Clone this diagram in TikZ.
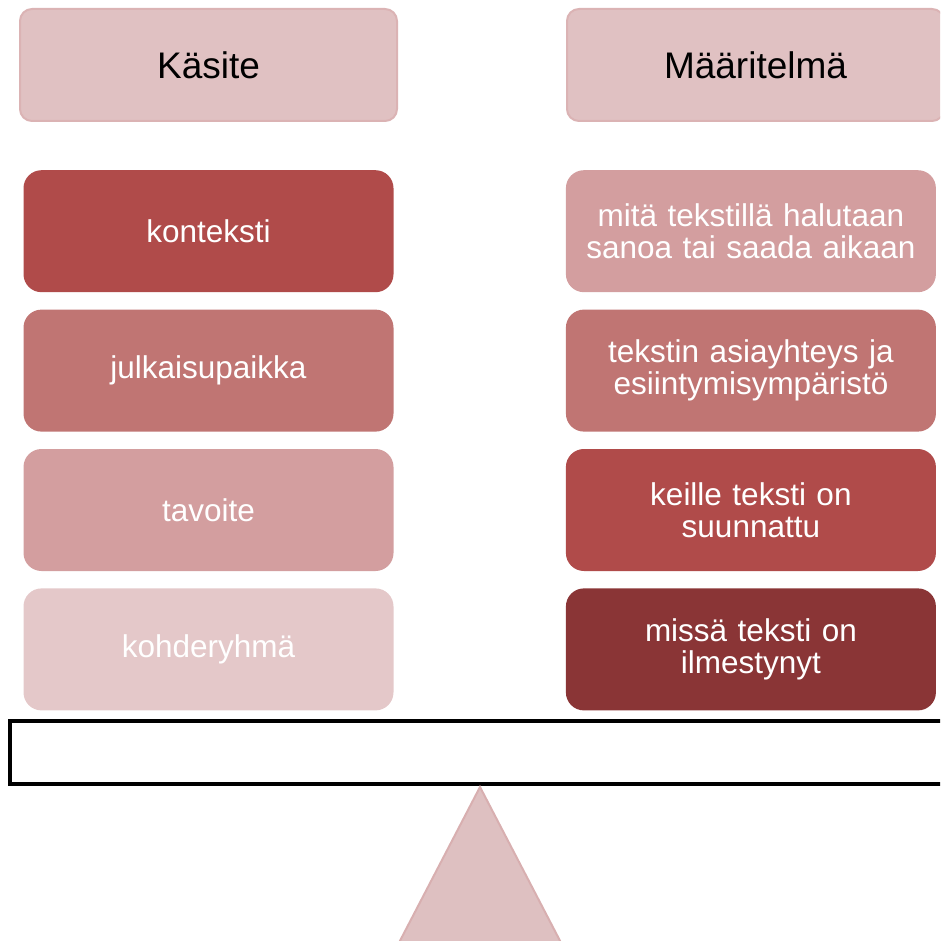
\documentclass[tikz,border=0pt]{standalone}
\usepackage{fontspec}
\setmainfont{Liberation Sans}
\usepackage{xcolor}
\usepackage{tikz}
\usetikzlibrary{positioning}
\definecolor{headfill}{HTML}{E0C1C2}
\definecolor{headline}{HTML}{DBB3B4}
\definecolor{shadeA}{HTML}{B04B4A}
\definecolor{shadeB}{HTML}{C07573}
\definecolor{shadeC}{HTML}{D39E9F}
\definecolor{shadeD}{HTML}{E4C8C9}
\definecolor{shadeE}{HTML}{8A3536}
\definecolor{pivotfill}{HTML}{DEC0C1}
\definecolor{pivotline}{HTML}{D8AFB0}
\tikzstyle{header} = [rectangle, rounded corners=12pt, minimum width=377pt, minimum height=112pt, text centered, draw=headline, line width=2pt, fill=headfill, font=\fontsize{37}{41}\selectfont]
\tikzstyle{term} = [rectangle, rounded corners=18pt, minimum width=370pt, minimum height=122pt, text width=350pt, align=center, text=white, font=\fontsize{31.5}{32.5}\selectfont]
\tikzstyle{beam} = [rectangle, minimum width=935pt, minimum height=63pt, draw=black, line width=4.5pt, fill=white]
\tikzstyle{support} = [draw=pivotline, line width=2pt, fill=pivotfill]

\begin{document}
\begin{tikzpicture}[x=1pt, y=-1pt, node distance=17pt]
		\useasboundingbox (0,0) rectangle (940,941);
		\clip (0,0) rectangle (940,941);
		\node (kasite) [header] at (208.5,65) {Käsite};
		\node (maaritelma) [header, right=168pt of kasite] {Määritelmä};
		\node (konteksti) [term, fill=shadeA, below=48pt of kasite] {konteksti};
		\node (julkaisu) [term, fill=shadeB, below=of konteksti] {julkaisupaikka};
		\node (tavoite) [term, fill=shadeC, below=of julkaisu] {tavoite};
		\node (kohde) [term, fill=shadeD, below=of tavoite] {kohderyhmä};
		\node (mita) [term, fill=shadeC, right=172pt of konteksti] {mitä tekstillä halutaan\\sanoa tai saada aikaan};
		\node (asia) [term, fill=shadeB, below=of mita] {tekstin asiayhteys ja\\esiintymisympäristö};
		\node (keille) [term, fill=shadeA, below=of asia] {keille teksti on\\suunnattu};
		\node (missa) [term, fill=shadeE, below=of keille] {missä teksti on\\ilmestynyt};
		\node (palkki) [beam] at (477.5,752.5) {};
		\coordinate (pivot) at (480,787);
		\draw [support] (pivot) -- ++(-90,173) -- ++(180,0) -- cycle;
	\end{tikzpicture}
\end{document}
